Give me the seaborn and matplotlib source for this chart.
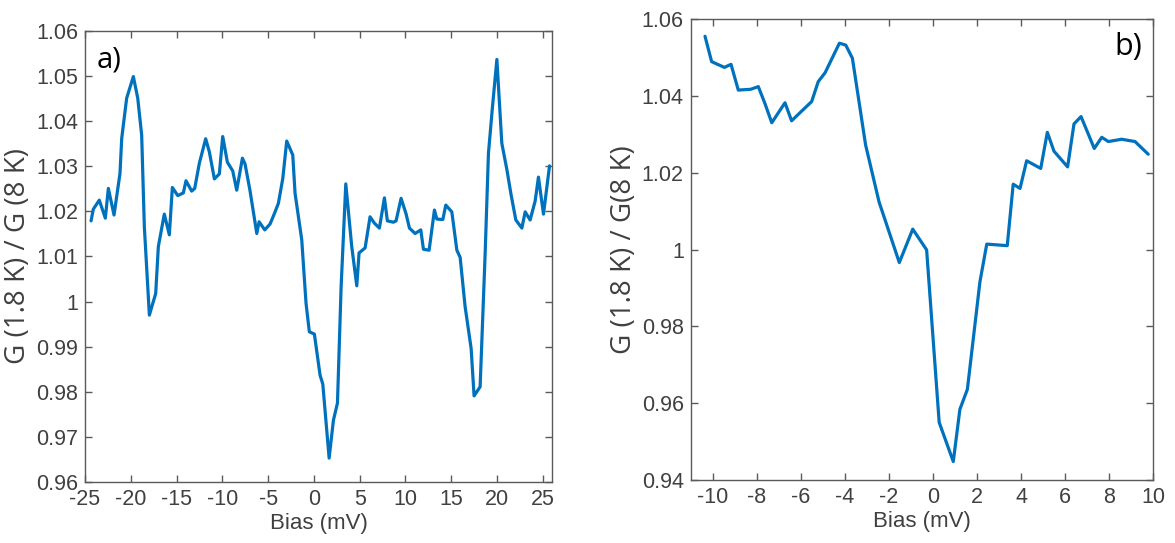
import numpy as np
import pandas as pd
import matplotlib
matplotlib.use("Agg")
import matplotlib.pyplot as plt
from matplotlib.ticker import FixedLocator, FuncFormatter
import seaborn as sns

# Panel a: conductance ratio over the wide bias window
bias_a = [-24.34, -24.09, -23.44, -22.78, -22.45, -21.83, -21.18, -20.99, -20.45, -19.72,
          -19.24, -18.81, -18.52, -17.97, -17.28, -16.99, -16.34, -15.79, -15.46, -14.87,
          -14.26, -13.97, -13.35, -13.02, -12.51, -11.82, -11.42, -10.87, -10.33, -9.96,
          -9.45, -8.87, -8.43, -7.81, -7.52, -6.98, -6.24, -5.99, -5.37, -4.79,
          -4.24, -3.88, -3.40, -2.97, -2.31, -2.06, -1.33, -0.86, -0.50, 0.05,
          0.67, 0.97, 1.66, 2.13, 2.57, 2.97, 3.48, 4.13, 4.68, 4.93,
          5.59, 6.13, 6.60, 7.15, 7.70, 8.02, 8.68, 8.97, 9.52, 10.07,
          10.43, 11.05, 11.67, 11.96, 12.58, 13.16, 13.42, 14.08, 14.40, 15.06,
          15.61, 15.97, 16.51, 17.17, 17.49, 18.15, 18.70, 19.06, 19.50, 19.98,
          20.52, 21.07, 21.54, 22.05, 22.71, 23.07, 23.61, 24.16, 24.52, 25.07,
          25.73]
ratio_a = [1.0179, 1.0205, 1.0225, 1.0185, 1.0251, 1.0192, 1.0284, 1.0362, 1.0451, 1.0499,
           1.0451, 1.0369, 1.0166, 0.9970, 1.0018, 1.0122, 1.0194, 1.0148, 1.0253, 1.0235,
           1.0241, 1.0268, 1.0245, 1.0251, 1.0307, 1.0361, 1.0332, 1.0272, 1.0283, 1.0366,
           1.0309, 1.0290, 1.0247, 1.0318, 1.0305, 1.0246, 1.0151, 1.0177, 1.0159, 1.0172,
           1.0199, 1.0218, 1.0273, 1.0356, 1.0325, 1.0240, 1.0137, 0.9996, 0.9933, 0.9928,
           0.9837, 0.9817, 0.9653, 0.9737, 0.9775, 1.0033, 1.0261, 1.0122, 1.0035, 1.0108,
           1.0119, 1.0188, 1.0174, 1.0163, 1.0230, 1.0179, 1.0176, 1.0179, 1.0229, 1.0194,
           1.0163, 1.0151, 1.0159, 1.0116, 1.0114, 1.0203, 1.0183, 1.0182, 1.0214, 1.0199,
           1.0114, 1.0098, 0.9989, 0.9896, 0.9791, 0.9811, 1.0107, 1.0329, 1.0432, 1.0537,
           1.0351, 1.0293, 1.0236, 1.0181, 1.0163, 1.0199, 1.0181, 1.0223, 1.0276, 1.0194,
           1.0301]

# Panel b: conductance ratio over the narrow bias window
bias_b = [-10.35, -10.05, -9.47, -9.17, -8.84, -8.28, -7.93, -7.63, -7.32, -6.72,
          -6.42, -6.04, -5.51, -5.21, -4.90, -4.25, -3.96, -3.66, -3.06, -2.45,
          -1.53, -0.92, -0.29, 0.28, 0.92, 1.22, 1.56, 2.13, 2.44, 3.37,
          3.64, 3.95, 4.25, 4.89, 5.19, 5.49, 6.11, 6.40, 6.72, 7.32,
          7.66, 7.96, 8.56, 9.17, 9.77]
ratio_b = [1.0555, 1.0489, 1.0474, 1.0482, 1.0415, 1.0417, 1.0424, 1.0380, 1.0330, 1.0382,
           1.0335, 1.0356, 1.0385, 1.0437, 1.0460, 1.0537, 1.0532, 1.0498, 1.0272, 1.0124,
           0.9966, 1.0053, 0.9999, 0.9550, 0.9448, 0.9584, 0.9636, 0.9916, 1.0014, 1.0010,
           1.0170, 1.0159, 1.0231, 1.0211, 1.0305, 1.0256, 1.0215, 1.0327, 1.0346, 1.0263,
           1.0292, 1.0281, 1.0287, 1.0281, 1.0248]

xticks_a = [-25, -20, -15, -10, -5, 0, 5, 10, 15, 20, 25]
yticks_a = [0.96, 0.97, 0.98, 0.99, 1.00, 1.01, 1.02, 1.03, 1.04, 1.05, 1.06]
xticks_b = [-10, -8, -6, -4, -2, 0, 2, 4, 6, 8, 10]
yticks_b = [0.94, 0.96, 0.98, 1.00, 1.02, 1.04, 1.06]

sns.set_theme(style="white")
plt.rcParams["font.family"] = ["Liberation Sans", "DejaVu Sans"]

LINE = "#0072BD"
AXC = "#5a5a5a"
TXT = "#404040"


def fmt(v, _pos):
    return f"{v:.2f}".rstrip("0").rstrip(".")


def style_axes(ax, xlim, ylim, xt, yt):
    ax.set_xlim(*xlim)
    ax.set_ylim(*ylim)
    ax.xaxis.set_major_locator(FixedLocator(xt))
    ax.yaxis.set_major_locator(FixedLocator(yt))
    ax.yaxis.set_major_formatter(FuncFormatter(fmt))
    ax.xaxis.set_major_formatter(FuncFormatter(lambda v, p: f"{v:g}"))
    for sp in ax.spines.values():
        sp.set_visible(True)
        sp.set_color(AXC)
        sp.set_linewidth(1.0)
    ax.tick_params(axis="both", which="major", direction="in", length=5, width=1.0,
                   color=AXC, labelcolor=TXT, labelsize=15.5, top=True, right=True,
                   bottom=True, left=True, pad=5)
    ax.grid(False)
    ax.set_facecolor("white")


fig = plt.figure(figsize=(11.75, 5.43), dpi=100)
fig.patch.set_facecolor("white")

ax_a = fig.add_axes([85 / 1175, 1 - 482 / 543, (552 - 85) / 1175, (482 - 31) / 543])
df_a = pd.DataFrame({"bias": bias_a, "ratio": ratio_a})
sns.lineplot(data=df_a, x="bias", y="ratio", ax=ax_a, color=LINE, linewidth=2.3,
             estimator=None, sort=False)
style_axes(ax_a, (-25, 26), (0.96, 1.06), xticks_a, yticks_a)
ax_a.set_xlabel("Bias (mV)", fontsize=16, color=TXT, labelpad=2)
ax_a.set_ylabel("G (1.8 K) / G (8 K)", fontsize=20, color=TXT, labelpad=3,
                family=["Open Sans", "DejaVu Sans"])
ax_a.text(0.025, 0.935, "a)", transform=ax_a.transAxes, fontsize=21, color="black",
          family=["Open Sans", "DejaVu Sans"], va="center", ha="left")

ax_b = fig.add_axes([690.7 / 1175, 1 - 480 / 543, (1153.3 - 690.7) / 1175, (480 - 19) / 543])
df_b = pd.DataFrame({"bias": bias_b, "ratio": ratio_b})
sns.lineplot(data=df_b, x="bias", y="ratio", ax=ax_b, color=LINE, linewidth=2.3,
             estimator=None, sort=False)
style_axes(ax_b, (-11, 10), (0.94, 1.06), xticks_b, yticks_b)
ax_b.set_xlabel("Bias (mV)", fontsize=16, color=TXT, labelpad=2)
ax_b.set_ylabel("G (1.8 K) / G(8 K)", fontsize=20, color=TXT, labelpad=3,
                family=["Open Sans", "DejaVu Sans"])
ax_b.text(0.975, 0.94, "b)", transform=ax_b.transAxes, fontsize=22, color="black",
          family=["Open Sans", "DejaVu Sans"], va="center", ha="right")

fig.savefig("out.png", dpi=100, facecolor="white")
